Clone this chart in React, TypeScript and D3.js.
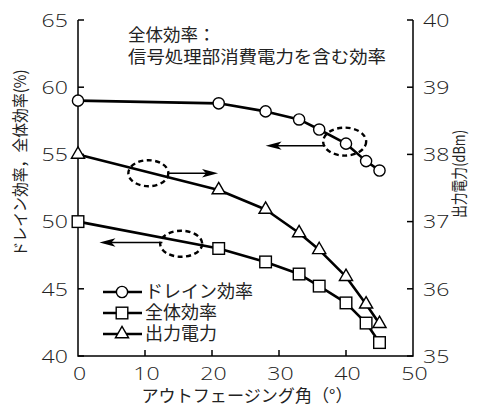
import React from "react";
import * as d3 from "d3";

const angle = [0, 21, 28, 33, 36, 40, 43, 45];
const drainEff = [59.0, 58.8, 58.2, 57.6, 56.85, 55.8, 54.5, 53.8];
const totalEff = [50.0, 48.0, 47.0, 46.1, 45.2, 43.95, 42.45, 41.0];
const outPower = [38.0, 37.47, 37.18, 36.83, 36.58, 36.18, 35.77, 35.48];

const xTicks = [0, 10, 20, 30, 40, 50];
const yLeftTicks = [40, 45, 50, 55, 60, 65];
const yRightTicks = [35, 36, 37, 38, 39, 40];

const legendLabels = ["ドレイン効率", "全体効率", "出力電力"];
const noteLines = ["全体効率：", "信号処理部消費電力を含む効率"];

// annotation ellipses (data coords, left axis) and arrows
const ellipses = [
  { cx: 10.5, cy: 53.6, rx: 20, ry: 13 },
  { cx: 15.4, cy: 48.35, rx: 21, ry: 13 },
  { cx: 39.8, cy: 55.95, rx: 21.5, ry: 14 },
];
const arrows = [
  { x1: 13.3, x2: 20.9, y: 53.6 },
  { x1: 12.6, x2: 3.2, y: 48.45 },
  { x1: 36.9, x2: 28.0, y: 55.65 },
];

const W = 480, H = 408;
const left = 78, right = 413, top = 20, bottom = 356;

export default function App() {
  const x = d3.scaleLinear().domain([0, 50]).range([left, right]);
  const yL = d3.scaleLinear().domain([40, 65]).range([bottom, top]);
  const yR = d3.scaleLinear().domain([35, 40]).range([bottom, top]);

  const line = d3.line<[number, number]>().x((d) => d[0]).y((d) => d[1]);
  const ptsD = angle.map((a, i) => [x(a), yL(drainEff[i])] as [number, number]);
  const ptsT = angle.map((a, i) => [x(a), yL(totalEff[i])] as [number, number]);
  const ptsP = angle.map((a, i) => [x(a), yR(outPower[i])] as [number, number]);

  const digitFont = "'Open Sans', 'DejaVu Sans', sans-serif";
  const jpFont = "'Noto Sans CJK JP', sans-serif";
  const numLen = (v: number) => String(v).length * 13.2;

  const circle = (cx: number, cy: number, k: string) => (
    <circle key={k} cx={cx} cy={cy} r={5.6} fill="#fff" stroke="#000" strokeWidth={1.4} />
  );
  const square = (cx: number, cy: number, k: string) => (
    <rect key={k} x={cx - 5.8} y={cy - 5.8} width={11.6} height={11.6} fill="#fff" stroke="#000" strokeWidth={1.4} />
  );
  const tri = (cx: number, cy: number, k: string) => {
    const s = d3.symbol().type(d3.symbolTriangle).size(75)();
    return <path key={k} d={s || ""} transform={`translate(${cx},${cy})`} fill="#fff" stroke="#000" strokeWidth={1.4} />;
  };

  const arrowHead = (tx: number, ty: number, dir: number, k: string) => {
    const L = 16, hw = 4.2, notch = 4;
    const d = `M${tx},${ty} L${tx - dir * L},${ty - hw} L${tx - dir * (L - notch)},${ty} L${tx - dir * L},${ty + hw} Z`;
    return <path key={k} d={d} fill="#000" />;
  };

  const legendY = [292, 313, 334];
  const markers = [circle, square, tri];
  const numProps = { fontFamily: digitFont, fontSize: 19, fontWeight: 300, fill: "#222", lengthAdjust: "spacingAndGlyphs" } as any;

  return (
    <svg width={W} height={H} style={{ position: "absolute", left: 0, top: 0, background: "#fff" }}>
      <rect width={W} height={H} fill="#fff" />
      {/* axes */}
      <path d={`M${left},${top} L${left},${bottom} L${right},${bottom} L${right},${top}`} fill="none" stroke="#000" strokeWidth={1.5} />
      {yLeftTicks.map((v) => (
        <g key={"yl" + v}>
          <line x1={left} x2={left + 6} y1={yL(v)} y2={yL(v)} stroke="#000" strokeWidth={1.5} />
          <text x={68} y={yL(v)} dy="0.36em" textAnchor="end" textLength={numLen(v)} {...numProps}>{v}</text>
        </g>
      ))}
      {yRightTicks.map((v) => (
        <g key={"yr" + v}>
          <line x1={right - 6} x2={right} y1={yR(v)} y2={yR(v)} stroke="#000" strokeWidth={1.5} />
          <text x={423} y={yR(v)} dy="0.36em" textAnchor="start" textLength={numLen(v)} {...numProps}>{v}</text>
        </g>
      ))}
      {xTicks.map((v) => (
        <g key={"x" + v}>
          {v > 0 && v < 50 && <line x1={x(v)} x2={x(v)} y1={bottom} y2={bottom - 6} stroke="#000" strokeWidth={1.5} />}
          <text x={x(v) + 1.5} y={380} textAnchor="middle" textLength={numLen(v)} {...numProps}>{v}</text>
        </g>
      ))}

      {/* axis titles */}
      <text transform="translate(20,163) rotate(-90)" textAnchor="middle" dy="0.35em" fontFamily={jpFont} fontSize={16} textLength={187} lengthAdjust="spacingAndGlyphs" fill="#222">ドレイン効率，全体効率(%)</text>
      <text transform="translate(459,174) rotate(-90)" textAnchor="middle" dy="0.35em" fontFamily={jpFont} fontSize={16} textLength={88} lengthAdjust="spacingAndGlyphs" fill="#222">出力電力(dBm)</text>
      <text x={247} y={401.5} textAnchor="middle" fontFamily={jpFont} fontSize={17} textLength={211} lengthAdjust="spacingAndGlyphs" fill="#222">アウトフェージング角（°）</text>

      {/* note */}
      <text x={128} y={41} fontFamily={jpFont} fontSize={17.5} fill="#222">{noteLines[0]}</text>
      <text x={128} y={63} fontFamily={jpFont} fontSize={17.5} textLength={258} lengthAdjust="spacingAndGlyphs" fill="#222">{noteLines[1]}</text>

      {/* ellipses and arrows */}
      {ellipses.map((e, i) => (
        <ellipse key={"e" + i} cx={x(e.cx)} cy={yL(e.cy)} rx={e.rx} ry={e.ry} fill="none" stroke="#000" strokeWidth={2.4} strokeDasharray="5 3.5" />
      ))}
      {arrows.map((a, i) => {
        const dir = a.x2 > a.x1 ? 1 : -1;
        return (
          <g key={"a" + i}>
            <line x1={x(a.x1)} x2={x(a.x2) - dir * 10} y1={yL(a.y)} y2={yL(a.y)} stroke="#000" strokeWidth={1.5} />
            {arrowHead(x(a.x2), yL(a.y), dir, "h" + i)}
          </g>
        );
      })}

      {/* data lines */}
      {[ptsD, ptsT, ptsP].map((p, i) => (
        <path key={"l" + i} d={line(p) || ""} fill="none" stroke="#000" strokeWidth={2.6} strokeLinejoin="round" />
      ))}
      {ptsD.map((p, i) => circle(p[0], p[1], "c" + i))}
      {ptsT.map((p, i) => square(p[0], p[1], "s" + i))}
      {ptsP.map((p, i) => tri(p[0], p[1], "t" + i))}

      {/* legend */}
      {legendLabels.map((lab, i) => (
        <g key={"lg" + i}>
          <line x1={103} x2={142} y1={legendY[i]} y2={legendY[i]} stroke="#000" strokeWidth={2.6} />
          {markers[i](122, legendY[i], "lm" + i)}
          <text x={145} y={legendY[i]} dy="0.36em" fontFamily={jpFont} fontSize={18} fill="#222">{lab}</text>
        </g>
      ))}
    </svg>
  );
}
